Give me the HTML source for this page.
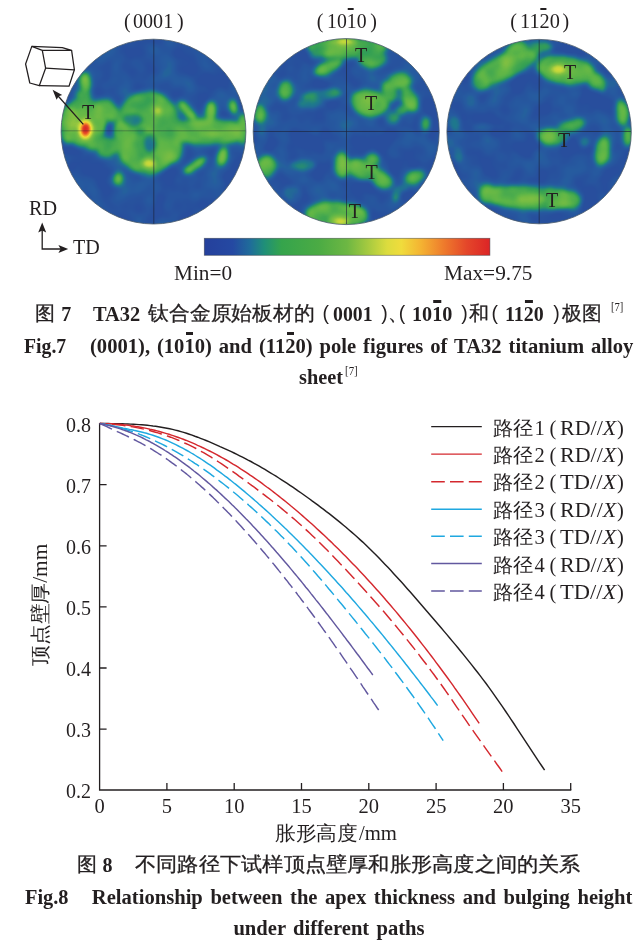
<!DOCTYPE html>
<html><head><meta charset="utf-8">
<style>
html,body{margin:0;padding:0;background:#fff;}
body{width:641px;height:944px;position:relative;overflow:hidden;font-family:"Liberation Serif",serif;color:#231f20;}
.t{position:absolute;white-space:nowrap;line-height:1;transform-origin:0 0;}
#tx{position:absolute;left:0;top:0;width:641px;height:944px;will-change:transform;}
.b{font-weight:bold;}
.cjk{font-family:"Liberation Sans",sans-serif;font-weight:normal;-webkit-text-stroke:0.3px #231f20;}
.cjkp{font-family:"Liberation Sans",sans-serif;font-weight:normal;}
.cjks{font-family:"Liberation Serif",serif;}
.r{font-weight:normal;}
svg{position:absolute;left:0;top:0;}
sup.r{font-size:0.62em;vertical-align:baseline;position:relative;top:-0.55em;font-weight:normal;}
.ob{position:relative;display:inline-block;}
.ob:before{content:"";position:absolute;left:10%;right:30%;top:-0.13em;height:0.075em;background:#231f20;}
.b .ob:before{height:0.125em;top:-0.17em;left:14%;right:12%;}
</style></head><body>
<svg width="641" height="944" viewBox="0 0 641 944">
<defs>
<linearGradient id="cb" x1="0" x2="1" y1="0" y2="0">
<stop offset="0" stop-color="#25409c"/>
<stop offset="0.1" stop-color="#2549a2"/>
<stop offset="0.16" stop-color="#1f6c9a"/>
<stop offset="0.21" stop-color="#1f8f78"/>
<stop offset="0.27" stop-color="#35a44c"/>
<stop offset="0.4" stop-color="#4bab44"/>
<stop offset="0.5" stop-color="#6db743"/>
<stop offset="0.57" stop-color="#a3c940"/>
<stop offset="0.64" stop-color="#dcdc3e"/>
<stop offset="0.69" stop-color="#f0dc3c"/>
<stop offset="0.76" stop-color="#f4b232"/>
<stop offset="0.84" stop-color="#ee7a2c"/>
<stop offset="0.92" stop-color="#e4462a"/>
<stop offset="1.0" stop-color="#dc2426"/>
</linearGradient>
<clipPath id="cp0"><circle cx="153.5" cy="131.6" r="92.4"/></clipPath>
<clipPath id="cp1"><circle cx="346.2" cy="131.6" r="93.0"/></clipPath>
<clipPath id="cp2"><circle cx="539.1" cy="131.6" r="92.2"/></clipPath>
<filter id="heat" x="0" y="0" width="641" height="260" filterUnits="userSpaceOnUse" color-interpolation-filters="sRGB"><feGaussianBlur in="SourceGraphic" stdDeviation="2.2" result="bl"/><feTurbulence type="fractalNoise" baseFrequency="0.045" numOctaves="2" seed="7" result="nz"/><feColorMatrix in="nz" type="matrix" values="1 0 0 0 0  1 0 0 0 0  1 0 0 0 0  0 0 0 0 1" result="ng"/><feGaussianBlur in="ng" stdDeviation="1.2" result="ngb"/><feComposite in="bl" in2="ngb" operator="arithmetic" k1="0" k2="1" k3="0.30" k4="-0.165" result="mix"/><feComponentTransfer in="mix"><feFuncR type="table" tableValues="0.157 0.149 0.118 0.204 0.361 0.510 0.745 0.941 0.949 0.894 0.839"/><feFuncG type="table" tableValues="0.306 0.361 0.478 0.627 0.710 0.753 0.839 0.863 0.588 0.282 0.133"/><feFuncB type="table" tableValues="0.616 0.627 0.549 0.329 0.282 0.259 0.235 0.220 0.173 0.157 0.157"/><feFuncA type="linear" slope="0" intercept="1"/></feComponentTransfer></filter>

</defs>
<g clip-path="url(#cp0)"><g filter="url(#heat)"><rect x="49.1" y="27.2" width="208.8" height="208.8" fill="#0d0d0d"/><ellipse cx="84" cy="122" rx="25.5" ry="27.5" fill="rgb(54,54,54)"/><ellipse cx="69" cy="124" rx="11.5" ry="22.5" fill="rgb(54,54,54)"/><ellipse cx="85.3" cy="84" rx="7.7" ry="13.5" fill="rgb(54,54,54)"/><ellipse cx="84" cy="97" rx="10.5" ry="10.5" fill="rgb(54,54,54)"/><ellipse cx="103" cy="108" rx="15.5" ry="11.5" fill="rgb(54,54,54)"/><ellipse cx="106" cy="147" rx="12.0" ry="13.0" fill="rgb(54,54,54)"/><ellipse cx="95" cy="142" rx="15.5" ry="10.5" fill="rgb(54,54,54)"/><ellipse cx="148" cy="133" rx="36.5" ry="44.5" fill="rgb(54,54,54)"/><ellipse cx="168" cy="150" rx="17.5" ry="16.5" fill="rgb(54,54,54)"/><ellipse cx="208" cy="131.5" rx="45.5" ry="15.5" fill="rgb(54,54,54)"/><ellipse cx="180" cy="131" rx="13.5" ry="14.5" fill="rgb(54,54,54)"/><ellipse cx="112" cy="114" rx="10.5" ry="10.5" fill="rgb(54,54,54)"/><ellipse cx="113" cy="146" rx="10.5" ry="10.5" fill="rgb(54,54,54)"/><ellipse cx="187.5" cy="111" rx="7.1" ry="14.5" fill="rgb(54,54,54)" transform="rotate(-40 187.5 111)"/><ellipse cx="210.8" cy="113" rx="7.7" ry="13.5" fill="rgb(54,54,54)"/><ellipse cx="233.5" cy="107.4" rx="6.9" ry="10.0" fill="rgb(54,54,54)" transform="rotate(-10 233.5 107.4)"/><ellipse cx="242.5" cy="129" rx="8.5" ry="17.5" fill="rgb(54,54,54)"/><ellipse cx="195.2" cy="165.2" rx="15.5" ry="6.9" fill="rgb(54,54,54)" transform="rotate(-35 195.2 165.2)"/><ellipse cx="222.5" cy="156.6" rx="7.7" ry="11.5" fill="rgb(54,54,54)" transform="rotate(15 222.5 156.6)"/><ellipse cx="118" cy="179.2" rx="6.9" ry="8.1" fill="rgb(54,54,54)"/><ellipse cx="212" cy="134" rx="15.5" ry="6.7" fill="rgb(54,54,54)"/><ellipse cx="72" cy="120" rx="9.5" ry="15.5" fill="rgb(54,54,54)"/><ellipse cx="97" cy="112" rx="8.5" ry="11.5" fill="rgb(54,54,54)"/><ellipse cx="84" cy="122" rx="22" ry="24" fill="rgb(102,102,102)"/><ellipse cx="69" cy="124" rx="8" ry="19" fill="rgb(102,102,102)"/><ellipse cx="85.3" cy="84" rx="4.2" ry="10" fill="rgb(115,115,115)"/><ellipse cx="84" cy="97" rx="7" ry="7" fill="rgb(102,102,102)"/><ellipse cx="103" cy="108" rx="12" ry="8" fill="rgb(102,102,102)"/><ellipse cx="106" cy="147" rx="8.5" ry="9.5" fill="rgb(102,102,102)"/><ellipse cx="95" cy="142" rx="12" ry="7" fill="rgb(102,102,102)"/><ellipse cx="148" cy="133" rx="33" ry="41" fill="rgb(102,102,102)"/><ellipse cx="168" cy="150" rx="14" ry="13" fill="rgb(102,102,102)"/><ellipse cx="208" cy="131.5" rx="42" ry="12" fill="rgb(102,102,102)"/><ellipse cx="180" cy="131" rx="10" ry="11" fill="rgb(102,102,102)"/><ellipse cx="112" cy="114" rx="7" ry="7" fill="rgb(102,102,102)"/><ellipse cx="113" cy="146" rx="7" ry="7" fill="rgb(102,102,102)"/><ellipse cx="187.5" cy="111" rx="3.6" ry="11" fill="rgb(115,115,115)" transform="rotate(-40 187.5 111)"/><ellipse cx="210.8" cy="113" rx="4.2" ry="10" fill="rgb(115,115,115)"/><ellipse cx="233.5" cy="107.4" rx="3.4" ry="6.5" fill="rgb(128,128,128)" transform="rotate(-10 233.5 107.4)"/><ellipse cx="242.5" cy="129" rx="5" ry="14" fill="rgb(102,102,102)"/><ellipse cx="195.2" cy="165.2" rx="12" ry="3.4" fill="rgb(122,122,122)" transform="rotate(-35 195.2 165.2)"/><ellipse cx="222.5" cy="156.6" rx="4.2" ry="8" fill="rgb(128,128,128)" transform="rotate(15 222.5 156.6)"/><ellipse cx="118" cy="179.2" rx="3.4" ry="4.6" fill="rgb(107,107,107)"/><ellipse cx="109" cy="130" rx="3.2" ry="6" fill="rgb(5,5,5)"/><ellipse cx="133" cy="120" rx="10" ry="6.5" fill="rgb(56,56,56)"/><ellipse cx="150" cy="143" rx="6" ry="10" fill="rgb(56,56,56)"/><ellipse cx="141" cy="132" rx="5" ry="4" fill="rgb(76,76,76)"/><ellipse cx="120" cy="131" rx="3" ry="4" fill="rgb(76,76,76)"/><ellipse cx="212" cy="134" rx="12" ry="3.2" fill="rgb(128,128,128)"/><ellipse cx="157.8" cy="111.3" rx="4.5" ry="4.5" fill="rgb(153,153,153)"/><ellipse cx="149" cy="163.6" rx="7.5" ry="5.5" fill="rgb(158,158,158)"/><ellipse cx="149.5" cy="163.6" rx="4.5" ry="3.2" fill="rgb(191,191,191)"/><ellipse cx="72" cy="120" rx="6" ry="12" fill="rgb(128,128,128)"/><ellipse cx="97" cy="112" rx="5" ry="8" fill="rgb(122,122,122)"/><ellipse cx="85.4" cy="129.6" rx="8.4" ry="12" fill="rgb(140,140,140)"/><ellipse cx="85.4" cy="129.8" rx="6.3" ry="9.4" fill="rgb(178,178,178)"/><ellipse cx="85.4" cy="130" rx="4.7" ry="7.2" fill="rgb(219,219,219)"/><ellipse cx="85.4" cy="130.2" rx="3.4" ry="5.4" fill="rgb(255,255,255)"/></g><path d="M153.8,39.19999999999999 V224.0" stroke="#1c2238" stroke-opacity="0.7" stroke-width="0.9" fill="none"/><path d="M61.099999999999994,130.8 H245.9" stroke="#1c2238" stroke-opacity="0.38" stroke-width="0.9" fill="none"/></g>
<circle cx="153.5" cy="131.6" r="92.4" fill="none" stroke="#4a5a6a" stroke-opacity="0.8" stroke-width="1"/>
<g clip-path="url(#cp1)"><g filter="url(#heat)"><rect x="241.2" y="26.6" width="210.0" height="210.0" fill="#0d0d0d"/><ellipse cx="347" cy="48" rx="42.5" ry="13.5" fill="rgb(54,54,54)"/><ellipse cx="372" cy="58" rx="17.5" ry="12.5" fill="rgb(54,54,54)"/><ellipse cx="320" cy="51" rx="13.5" ry="8.5" fill="rgb(54,54,54)" transform="rotate(-20 320 51)"/><ellipse cx="328.7" cy="67" rx="18.0" ry="8.5" fill="rgb(54,54,54)" transform="rotate(-25 328.7 67)"/><ellipse cx="285.2" cy="90" rx="10.0" ry="11.5" fill="rgb(54,54,54)"/><ellipse cx="260.5" cy="113" rx="8.0" ry="12.0" fill="rgb(54,54,54)"/><ellipse cx="370" cy="103" rx="21.5" ry="15.5" fill="rgb(54,54,54)" transform="rotate(8 370 103)"/><ellipse cx="392.2" cy="117.6" rx="9.0" ry="8.5" fill="rgb(54,54,54)" transform="rotate(30 392.2 117.6)"/><ellipse cx="399.8" cy="81" rx="13.5" ry="11.0" fill="rgb(54,54,54)"/><ellipse cx="389.5" cy="91.6" rx="10.0" ry="13.5" fill="rgb(54,54,54)" transform="rotate(-10 389.5 91.6)"/><ellipse cx="409.5" cy="99" rx="10.0" ry="15.5" fill="rgb(54,54,54)" transform="rotate(-25 409.5 99)"/><ellipse cx="425.8" cy="123.7" rx="7.5" ry="9.7" fill="rgb(54,54,54)"/><ellipse cx="266.8" cy="166.2" rx="11.5" ry="13.5" fill="rgb(54,54,54)" transform="rotate(-10 266.8 166.2)"/><ellipse cx="341.7" cy="165" rx="10.5" ry="15.0" fill="rgb(54,54,54)"/><ellipse cx="363" cy="170" rx="20.5" ry="12.0" fill="rgb(54,54,54)" transform="rotate(18 363 170)"/><ellipse cx="381.5" cy="180" rx="14.5" ry="10.5" fill="rgb(54,54,54)" transform="rotate(25 381.5 180)"/><ellipse cx="372.3" cy="159.5" rx="9.5" ry="8.5" fill="rgb(54,54,54)"/><ellipse cx="415" cy="177" rx="12.5" ry="9.0" fill="rgb(54,54,54)" transform="rotate(-30 415 177)"/><ellipse cx="337" cy="216" rx="33.5" ry="15.5" fill="rgb(54,54,54)"/><ellipse cx="329.5" cy="210" rx="25.5" ry="10.5" fill="rgb(54,54,54)" transform="rotate(-5 329.5 210)"/><ellipse cx="366" cy="103" rx="11.5" ry="9.5" fill="rgb(54,54,54)"/><ellipse cx="342" cy="163" rx="7.5" ry="10.5" fill="rgb(54,54,54)"/><ellipse cx="311" cy="104" rx="14" ry="5" fill="rgb(41,41,41)"/><ellipse cx="292.8" cy="193.7" rx="10" ry="8" fill="rgb(43,43,43)" transform="rotate(30 292.8 193.7)"/><ellipse cx="268" cy="92" rx="10" ry="18" fill="rgb(36,36,36)" transform="rotate(20 268 92)"/><ellipse cx="323" cy="95" rx="21" ry="6" fill="rgb(56,56,56)" transform="rotate(-5 323 95)"/><ellipse cx="262" cy="140" rx="6" ry="14" fill="rgb(31,31,31)"/><ellipse cx="303.5" cy="164.7" rx="13" ry="6" fill="rgb(54,54,54)"/><ellipse cx="396.8" cy="193.7" rx="4.5" ry="8" fill="rgb(69,69,69)" transform="rotate(15 396.8 193.7)"/><ellipse cx="404" cy="188" rx="6" ry="4" fill="rgb(51,51,51)" transform="rotate(-30 404 188)"/><ellipse cx="347" cy="48" rx="39" ry="10" fill="rgb(102,102,102)"/><ellipse cx="372" cy="58" rx="14" ry="9" fill="rgb(102,102,102)"/><ellipse cx="320" cy="51" rx="10" ry="5" fill="rgb(87,87,87)" transform="rotate(-20 320 51)"/><ellipse cx="328.7" cy="67" rx="14.5" ry="5" fill="rgb(102,102,102)" transform="rotate(-25 328.7 67)"/><ellipse cx="285.2" cy="90" rx="6.5" ry="8" fill="rgb(97,97,97)"/><ellipse cx="260.5" cy="113" rx="4.5" ry="8.5" fill="rgb(97,97,97)"/><ellipse cx="331" cy="93" rx="9.5" ry="5.5" fill="rgb(71,71,71)" transform="rotate(-5 331 93)"/><ellipse cx="370" cy="103" rx="18" ry="12" fill="rgb(102,102,102)" transform="rotate(8 370 103)"/><ellipse cx="392.2" cy="117.6" rx="5.5" ry="5" fill="rgb(92,92,92)" transform="rotate(30 392.2 117.6)"/><ellipse cx="399.8" cy="81" rx="10" ry="7.5" fill="rgb(102,102,102)"/><ellipse cx="389.5" cy="91.6" rx="6.5" ry="10" fill="rgb(102,102,102)" transform="rotate(-10 389.5 91.6)"/><ellipse cx="409.5" cy="99" rx="6.5" ry="12" fill="rgb(102,102,102)" transform="rotate(-25 409.5 99)"/><ellipse cx="401" cy="110" rx="6" ry="5" fill="rgb(76,76,76)"/><ellipse cx="399.8" cy="96" rx="3.5" ry="4.5" fill="rgb(56,56,56)"/><ellipse cx="425.8" cy="123.7" rx="4" ry="6.2" fill="rgb(102,102,102)"/><ellipse cx="266.8" cy="166.2" rx="8" ry="10" fill="rgb(99,99,99)" transform="rotate(-10 266.8 166.2)"/><ellipse cx="341.7" cy="165" rx="7" ry="11.5" fill="rgb(107,107,107)"/><ellipse cx="363" cy="170" rx="17" ry="8.5" fill="rgb(102,102,102)" transform="rotate(18 363 170)"/><ellipse cx="381.5" cy="180" rx="11" ry="7" fill="rgb(102,102,102)" transform="rotate(25 381.5 180)"/><ellipse cx="372.3" cy="159.5" rx="6" ry="5" fill="rgb(92,92,92)"/><ellipse cx="415" cy="177" rx="9" ry="5.5" fill="rgb(94,94,94)" transform="rotate(-30 415 177)"/><ellipse cx="337" cy="216" rx="30" ry="12" fill="rgb(102,102,102)"/><ellipse cx="329.5" cy="210" rx="22" ry="7" fill="rgb(107,107,107)" transform="rotate(-5 329.5 210)"/><ellipse cx="343" cy="41.5" rx="14" ry="3.5" fill="rgb(140,140,140)"/><ellipse cx="344" cy="40" rx="7" ry="2.5" fill="rgb(168,168,168)"/><ellipse cx="339.5" cy="220" rx="11" ry="4" fill="rgb(140,140,140)"/><ellipse cx="342" cy="222.5" rx="6" ry="2.5" fill="rgb(173,173,173)"/><ellipse cx="366" cy="103" rx="8" ry="6" fill="rgb(120,120,120)"/><ellipse cx="342" cy="163" rx="4" ry="7" fill="rgb(128,128,128)"/></g><path d="M346.5,38.599999999999994 V224.6" stroke="#1c2238" stroke-opacity="0.7" stroke-width="0.9" fill="none"/><path d="M253.2,131.5 H439.2" stroke="#1c2238" stroke-opacity="0.7" stroke-width="0.9" fill="none"/></g>
<circle cx="346.2" cy="131.6" r="93.0" fill="none" stroke="#4a5a6a" stroke-opacity="0.8" stroke-width="1"/>
<g clip-path="url(#cp2)"><g filter="url(#heat)"><rect x="434.9" y="27.4" width="208.4" height="208.4" fill="#0d0d0d"/><ellipse cx="506" cy="66.5" rx="35.5" ry="15.0" fill="rgb(54,54,54)" transform="rotate(-24 506 66.5)"/><ellipse cx="481" cy="81" rx="12.0" ry="12.5" fill="rgb(54,54,54)" transform="rotate(-35 481 81)"/><ellipse cx="517" cy="51" rx="14.5" ry="11.5" fill="rgb(54,54,54)" transform="rotate(-30 517 51)"/><ellipse cx="566" cy="70" rx="31.5" ry="17.0" fill="rgb(54,54,54)" transform="rotate(8 566 70)"/><ellipse cx="596" cy="81" rx="11.5" ry="10.5" fill="rgb(54,54,54)" transform="rotate(40 596 81)"/><ellipse cx="622" cy="113" rx="8.5" ry="15.5" fill="rgb(54,54,54)" transform="rotate(-8 622 113)"/><ellipse cx="628" cy="137" rx="7.0" ry="12.5" fill="rgb(54,54,54)"/><ellipse cx="553" cy="137" rx="17.5" ry="11.0" fill="rgb(54,54,54)"/><ellipse cx="570" cy="127" rx="15.5" ry="8.0" fill="rgb(54,54,54)" transform="rotate(-10 570 127)"/><ellipse cx="579" cy="123.7" rx="8.0" ry="7.5" fill="rgb(54,54,54)"/><ellipse cx="602" cy="151.6" rx="9.5" ry="16.5" fill="rgb(54,54,54)" transform="rotate(8 602 151.6)"/><ellipse cx="530" cy="197.6" rx="51.5" ry="14.5" fill="rgb(54,54,54)" transform="rotate(3 530 197.6)"/><ellipse cx="572" cy="200" rx="11.5" ry="10.5" fill="rgb(54,54,54)" transform="rotate(20 572 200)"/><ellipse cx="488" cy="194" rx="10.5" ry="11.5" fill="rgb(54,54,54)"/><ellipse cx="513.3" cy="61" rx="16.5" ry="9.0" fill="rgb(54,54,54)" transform="rotate(-22 513.3 61)"/><ellipse cx="531.7" cy="199" rx="17.5" ry="8.5" fill="rgb(54,54,54)"/><ellipse cx="549" cy="138" rx="10.5" ry="8.0" fill="rgb(54,54,54)"/><ellipse cx="531.7" cy="47.2" rx="22" ry="6.5" fill="rgb(64,64,64)"/><ellipse cx="455" cy="123.7" rx="6" ry="7" fill="rgb(51,51,51)"/><ellipse cx="489" cy="126.7" rx="16" ry="3.5" fill="rgb(38,38,38)"/><ellipse cx="458.3" cy="154.7" rx="5" ry="9" fill="rgb(38,38,38)"/><ellipse cx="585.2" cy="142.5" rx="5" ry="5" fill="rgb(51,51,51)"/><ellipse cx="470" cy="100" rx="8" ry="8" fill="rgb(26,26,26)"/><ellipse cx="506" cy="66.5" rx="32" ry="11.5" fill="rgb(102,102,102)" transform="rotate(-24 506 66.5)"/><ellipse cx="481" cy="81" rx="8.5" ry="9" fill="rgb(107,107,107)" transform="rotate(-35 481 81)"/><ellipse cx="517" cy="51" rx="11" ry="8" fill="rgb(97,97,97)" transform="rotate(-30 517 51)"/><ellipse cx="566" cy="70" rx="28" ry="13.5" fill="rgb(102,102,102)" transform="rotate(8 566 70)"/><ellipse cx="596" cy="81" rx="8" ry="7" fill="rgb(97,97,97)" transform="rotate(40 596 81)"/><ellipse cx="602" cy="88.5" rx="3.5" ry="4" fill="rgb(76,76,76)"/><ellipse cx="622" cy="113" rx="5" ry="12" fill="rgb(112,112,112)" transform="rotate(-8 622 113)"/><ellipse cx="628" cy="137" rx="3.5" ry="9" fill="rgb(107,107,107)"/><ellipse cx="553" cy="137" rx="14" ry="7.5" fill="rgb(102,102,102)"/><ellipse cx="570" cy="127" rx="12" ry="4.5" fill="rgb(97,97,97)" transform="rotate(-10 570 127)"/><ellipse cx="579" cy="123.7" rx="4.5" ry="4" fill="rgb(92,92,92)"/><ellipse cx="602" cy="151.6" rx="6" ry="13" fill="rgb(107,107,107)" transform="rotate(8 602 151.6)"/><ellipse cx="530" cy="197.6" rx="48" ry="11" fill="rgb(102,102,102)" transform="rotate(3 530 197.6)"/><ellipse cx="572" cy="200" rx="8" ry="7" fill="rgb(97,97,97)" transform="rotate(20 572 200)"/><ellipse cx="488" cy="194" rx="7" ry="8" fill="rgb(102,102,102)"/><ellipse cx="513.3" cy="61" rx="13" ry="5.5" fill="rgb(117,117,117)" transform="rotate(-22 513.3 61)"/><ellipse cx="557.7" cy="69.3" rx="9" ry="6" fill="rgb(135,135,135)"/><ellipse cx="557.7" cy="69.3" rx="5.5" ry="3.6" fill="rgb(163,163,163)"/><ellipse cx="531.7" cy="199" rx="14" ry="5" fill="rgb(128,128,128)"/><ellipse cx="549" cy="138" rx="7" ry="4.5" fill="rgb(122,122,122)"/></g><path d="M539.2,39.39999999999999 V223.8" stroke="#1c2238" stroke-opacity="0.7" stroke-width="0.9" fill="none"/><path d="M446.90000000000003,131.5 H631.3000000000001" stroke="#1c2238" stroke-opacity="0.7" stroke-width="0.9" fill="none"/></g>
<circle cx="539.1" cy="131.6" r="92.2" fill="none" stroke="#4a5a6a" stroke-opacity="0.8" stroke-width="1"/>

<!-- colour bar -->
<rect x="204.3" y="238.3" width="285.6" height="17" fill="url(#cb)" stroke="#2a3038" stroke-opacity="0.55" stroke-width="0.8"/>
<!-- hex prism -->
<g fill="none" stroke="#231f20" stroke-width="1.25" stroke-linejoin="round">
<path d="M31.8,46.4 L25.6,64 L29.8,83 L39.3,85.7 L45.6,68.2 L42.3,50.3 Z"/>
<path d="M31.8,46.4 L62.3,47.6 L71.6,50.3 L42.3,50.3"/>
<path d="M45.6,68.2 L74.4,69.8"/>
<path d="M39.3,85.7 L69,86.2 L74.4,69.8 L71.6,50.3"/>
</g>
<!-- arrow to prism -->
<path d="M83.3,124.4 L55,92.5" stroke="#231f20" stroke-width="1.3" fill="none"/>
<path d="M52.6,89.8 L62.2,95 L58.6,96.3 L56.6,99.8 Z" fill="#231f20"/>
<!-- RD/TD axes -->
<path d="M42.2,228 L42.2,249 L62,249" stroke="#231f20" stroke-width="1.3" fill="none"/>
<path d="M42.2,222.6 L46.2,232.6 L42.2,230.4 L38.2,232.6 Z" fill="#231f20"/>
<path d="M68.2,249 L58.4,245 L60.6,249 L58.4,253 Z" fill="#231f20"/>
<!-- chart axes -->
<g stroke="#231f20" stroke-width="1.3" fill="none">
<path d="M99.6,423 L99.6,790 L571.3,790"/>
<path d="M99.6,423.6 h7 M99.6,484.7 h7 M99.6,545.8 h7 M99.6,606.9 h7 M99.6,668 h7 M99.6,729.1 h7"/>
<path d="M166.9,790 v-7 M234.2,790 v-7 M301.5,790 v-7 M368.8,790 v-7 M436.1,790 v-7 M503.4,790 v-7 M570.7,790 v-7"/>
</g>
<path d="M99.8,423.5 L102.6,423.5 L105.4,423.5 L108.2,423.5 L111.0,423.6 L113.8,423.6 L116.6,423.6 L119.4,423.7 L122.2,423.8 L125.0,423.9 L127.8,424.0 L130.6,424.1 L133.4,424.2 L136.2,424.4 L139.0,424.6 L141.8,424.8 L144.6,425.0 L147.4,425.3 L150.2,425.6 L153.0,426.0 L155.7,426.3 L158.5,426.7 L161.3,427.2 L164.1,427.7 L166.9,428.2 L169.7,428.8 L172.5,429.4 L175.3,430.1 L178.1,430.8 L180.9,431.6 L183.7,432.4 L186.5,433.3 L189.3,434.2 L192.1,435.1 L194.9,436.2 L197.7,437.2 L200.5,438.3 L203.3,439.4 L206.1,440.5 L208.9,441.7 L211.7,442.9 L214.5,444.1 L217.3,445.3 L220.1,446.6 L222.9,447.8 L225.7,449.1 L228.5,450.4 L231.3,451.7 L234.1,453.0 L236.9,454.4 L239.7,455.8 L242.5,457.2 L245.3,458.6 L248.1,460.1 L250.9,461.5 L253.7,463.1 L256.5,464.6 L259.3,466.2 L262.1,467.8 L264.9,469.4 L267.6,471.1 L270.4,472.8 L273.2,474.5 L276.0,476.2 L278.8,478.0 L281.6,479.8 L284.4,481.6 L287.2,483.4 L290.0,485.3 L292.8,487.2 L295.6,489.1 L298.4,491.1 L301.2,493.0 L304.0,495.0 L306.8,497.0 L309.6,499.0 L312.4,501.1 L315.2,503.1 L318.0,505.2 L320.8,507.3 L323.6,509.4 L326.4,511.6 L329.2,513.7 L332.0,515.9 L334.8,518.1 L337.6,520.4 L340.4,522.6 L343.2,525.0 L346.0,527.3 L348.8,529.7 L351.6,532.1 L354.4,534.5 L357.2,537.0 L360.0,539.6 L362.8,542.1 L365.6,544.8 L368.4,547.4 L371.2,550.2 L374.0,552.9 L376.8,555.7 L379.5,558.6 L382.3,561.5 L385.1,564.4 L387.9,567.3 L390.7,570.3 L393.5,573.4 L396.3,576.4 L399.1,579.5 L401.9,582.6 L404.7,585.7 L407.5,588.9 L410.3,592.1 L413.1,595.3 L415.9,598.5 L418.7,601.7 L421.5,604.9 L424.3,608.2 L427.1,611.4 L429.9,614.7 L432.7,618.0 L435.5,621.3 L438.3,624.5 L441.1,627.8 L443.9,631.1 L446.7,634.4 L449.5,637.7 L452.3,641.1 L455.1,644.4 L457.9,647.8 L460.7,651.2 L463.5,654.6 L466.3,658.1 L469.1,661.6 L471.9,665.1 L474.7,668.7 L477.5,672.3 L480.3,675.9 L483.1,679.6 L485.9,683.3 L488.7,687.1 L491.4,690.9 L494.2,694.8 L497.0,698.8 L499.8,702.8 L502.6,706.8 L505.4,711.0 L508.2,715.1 L511.0,719.3 L513.8,723.5 L516.6,727.8 L519.4,732.1 L522.2,736.4 L525.0,740.7 L527.8,744.9 L530.6,749.2 L533.4,753.4 L536.2,757.7 L539.0,761.9 L541.8,766.0 L544.6,770.1" fill="none" stroke="#231f20" stroke-width="1.45"/>
<path d="M99.8,423.5 L102.2,423.5 L104.6,423.6 L107.0,423.6 L109.3,423.7 L111.7,423.8 L114.1,424.0 L116.5,424.1 L118.9,424.3 L121.3,424.5 L123.7,424.8 L126.0,425.0 L128.4,425.3 L130.8,425.7 L133.2,426.0 L135.6,426.4 L138.0,426.8 L140.4,427.2 L142.8,427.6 L145.1,428.1 L147.5,428.6 L149.9,429.2 L152.3,429.7 L154.7,430.3 L157.1,430.9 L159.5,431.5 L161.8,432.2 L164.2,432.9 L166.6,433.6 L169.0,434.3 L171.4,435.1 L173.8,435.9 L176.2,436.7 L178.5,437.5 L180.9,438.4 L183.3,439.3 L185.7,440.2 L188.1,441.2 L190.5,442.2 L192.9,443.2 L195.2,444.2 L197.6,445.3 L200.0,446.3 L202.4,447.5 L204.8,448.6 L207.2,449.8 L209.6,451.0 L211.9,452.2 L214.3,453.4 L216.7,454.7 L219.1,456.0 L221.5,457.3 L223.9,458.6 L226.3,460.0 L228.7,461.4 L231.0,462.8 L233.4,464.3 L235.8,465.7 L238.2,467.2 L240.6,468.8 L243.0,470.3 L245.4,471.9 L247.7,473.4 L250.1,475.1 L252.5,476.7 L254.9,478.3 L257.3,480.0 L259.7,481.7 L262.1,483.4 L264.4,485.2 L266.8,487.0 L269.2,488.7 L271.6,490.5 L274.0,492.4 L276.4,494.2 L278.8,496.1 L281.1,498.0 L283.5,499.9 L285.9,501.8 L288.3,503.8 L290.7,505.8 L293.1,507.7 L295.5,509.7 L297.9,511.8 L300.2,513.8 L302.6,515.9 L305.0,518.0 L307.4,520.1 L309.8,522.2 L312.2,524.3 L314.6,526.5 L316.9,528.7 L319.3,530.9 L321.7,533.1 L324.1,535.3 L326.5,537.6 L328.9,539.9 L331.3,542.1 L333.6,544.5 L336.0,546.8 L338.4,549.1 L340.8,551.5 L343.2,553.9 L345.6,556.3 L348.0,558.7 L350.3,561.2 L352.7,563.7 L355.1,566.1 L357.5,568.6 L359.9,571.2 L362.3,573.7 L364.7,576.3 L367.1,578.9 L369.4,581.5 L371.8,584.1 L374.2,586.7 L376.6,589.4 L379.0,592.1 L381.4,594.8 L383.8,597.5 L386.1,600.3 L388.5,603.0 L390.9,605.8 L393.3,608.6 L395.7,611.4 L398.1,614.3 L400.5,617.2 L402.8,620.0 L405.2,622.9 L407.6,625.9 L410.0,628.8 L412.4,631.8 L414.8,634.8 L417.2,637.8 L419.5,640.8 L421.9,643.9 L424.3,646.9 L426.7,650.0 L429.1,653.1 L431.5,656.3 L433.9,659.4 L436.2,662.6 L438.6,665.8 L441.0,669.0 L443.4,672.3 L445.8,675.5 L448.2,678.8 L450.6,682.1 L453.0,685.4 L455.3,688.8 L457.7,692.1 L460.1,695.5 L462.5,698.9 L464.9,702.4 L467.3,705.8 L469.7,709.3 L472.0,712.8 L474.4,716.3 L476.8,719.8 L479.2,723.4" fill="none" stroke="#d4282e" stroke-width="1.45"/>
<path d="M99.8,423.5 L102.3,423.6 L104.9,423.7 L107.4,423.9 L109.9,424.1 L112.5,424.3 L115.0,424.5 L117.5,424.8 L120.0,425.1 L122.6,425.4 L125.1,425.7 L127.6,426.1 L130.2,426.5 L132.7,426.9 L135.2,427.4 L137.8,427.9 L140.3,428.4 L142.8,428.9 L145.4,429.5 L147.9,430.1 L150.4,430.8 L152.9,431.5 L155.5,432.2 L158.0,432.9 L160.5,433.7 L163.1,434.5 L165.6,435.4 L168.1,436.3 L170.7,437.2 L173.2,438.2 L175.7,439.2 L178.3,440.2 L180.8,441.3 L183.3,442.4 L185.8,443.5 L188.4,444.7 L190.9,445.9 L193.4,447.2 L196.0,448.5 L198.5,449.9 L201.0,451.3 L203.6,452.7 L206.1,454.2 L208.6,455.7 L211.2,457.2 L213.7,458.8 L216.2,460.4 L218.7,462.0 L221.3,463.7 L223.8,465.4 L226.3,467.1 L228.9,468.9 L231.4,470.6 L233.9,472.4 L236.5,474.2 L239.0,476.1 L241.5,477.9 L244.1,479.7 L246.6,481.6 L249.1,483.5 L251.6,485.4 L254.2,487.2 L256.7,489.1 L259.2,491.0 L261.8,493.0 L264.3,494.9 L266.8,496.8 L269.4,498.8 L271.9,500.8 L274.4,502.8 L277.0,504.8 L279.5,506.8 L282.0,508.9 L284.5,511.0 L287.1,513.1 L289.6,515.2 L292.1,517.4 L294.7,519.5 L297.2,521.8 L299.7,524.0 L302.3,526.3 L304.8,528.6 L307.3,530.9 L309.9,533.3 L312.4,535.7 L314.9,538.1 L317.5,540.6 L320.0,543.1 L322.5,545.6 L325.0,548.1 L327.6,550.6 L330.1,553.2 L332.6,555.8 L335.2,558.4 L337.7,561.0 L340.2,563.7 L342.8,566.3 L345.3,569.0 L347.8,571.7 L350.4,574.4 L352.9,577.2 L355.4,579.9 L357.9,582.7 L360.5,585.4 L363.0,588.2 L365.5,591.0 L368.1,593.8 L370.6,596.7 L373.1,599.5 L375.7,602.4 L378.2,605.3 L380.7,608.2 L383.3,611.1 L385.8,614.0 L388.3,617.0 L390.8,620.0 L393.4,623.0 L395.9,626.0 L398.4,629.1 L401.0,632.2 L403.5,635.3 L406.0,638.4 L408.6,641.6 L411.1,644.7 L413.6,647.9 L416.2,651.2 L418.7,654.4 L421.2,657.7 L423.7,661.0 L426.3,664.3 L428.8,667.7 L431.3,671.1 L433.9,674.5 L436.4,678.0 L438.9,681.5 L441.5,685.0 L444.0,688.5 L446.5,692.1 L449.1,695.7 L451.6,699.4 L454.1,703.1 L456.6,706.8 L459.2,710.5 L461.7,714.2 L464.2,717.9 L466.8,721.6 L469.3,725.3 L471.8,728.9 L474.4,732.6 L476.9,736.2 L479.4,739.7 L482.0,743.3 L484.5,746.8 L487.0,750.4 L489.5,753.9 L492.1,757.4 L494.6,760.9 L497.1,764.5 L499.7,768.0 L502.2,771.6" fill="none" stroke="#d4282e" stroke-width="1.45" stroke-dasharray="13.4 5.3" stroke-dashoffset="6.31"/>
<path d="M99.8,423.5 L101.9,423.9 L104.0,424.3 L106.2,424.7 L108.3,425.1 L110.4,425.5 L112.5,426.0 L114.7,426.4 L116.8,426.8 L118.9,427.2 L121.0,427.6 L123.2,428.1 L125.3,428.5 L127.4,428.9 L129.5,429.4 L131.7,429.8 L133.8,430.3 L135.9,430.7 L138.0,431.2 L140.2,431.7 L142.3,432.2 L144.4,432.8 L146.5,433.3 L148.7,434.0 L150.8,434.6 L152.9,435.3 L155.0,436.0 L157.2,436.7 L159.3,437.5 L161.4,438.3 L163.5,439.2 L165.7,440.0 L167.8,440.9 L169.9,441.9 L172.0,442.9 L174.2,443.9 L176.3,444.9 L178.4,446.0 L180.5,447.1 L182.7,448.2 L184.8,449.3 L186.9,450.5 L189.0,451.7 L191.2,453.0 L193.3,454.2 L195.4,455.5 L197.5,456.8 L199.7,458.2 L201.8,459.5 L203.9,460.9 L206.0,462.3 L208.2,463.8 L210.3,465.2 L212.4,466.7 L214.5,468.2 L216.6,469.8 L218.8,471.3 L220.9,472.9 L223.0,474.5 L225.1,476.1 L227.3,477.7 L229.4,479.4 L231.5,481.0 L233.6,482.7 L235.8,484.4 L237.9,486.1 L240.0,487.9 L242.1,489.6 L244.3,491.4 L246.4,493.2 L248.5,495.0 L250.6,496.8 L252.8,498.6 L254.9,500.5 L257.0,502.3 L259.1,504.2 L261.3,506.1 L263.4,508.0 L265.5,509.9 L267.6,511.8 L269.8,513.8 L271.9,515.8 L274.0,517.7 L276.1,519.7 L278.3,521.7 L280.4,523.7 L282.5,525.7 L284.6,527.8 L286.8,529.8 L288.9,531.9 L291.0,534.0 L293.1,536.1 L295.3,538.2 L297.4,540.3 L299.5,542.4 L301.6,544.6 L303.8,546.7 L305.9,548.9 L308.0,551.1 L310.1,553.3 L312.3,555.5 L314.4,557.7 L316.5,559.9 L318.6,562.2 L320.8,564.4 L322.9,566.7 L325.0,569.0 L327.1,571.3 L329.2,573.6 L331.4,575.9 L333.5,578.2 L335.6,580.6 L337.7,582.9 L339.9,585.3 L342.0,587.6 L344.1,590.0 L346.2,592.4 L348.4,594.8 L350.5,597.3 L352.6,599.7 L354.7,602.1 L356.9,604.6 L359.0,607.1 L361.1,609.5 L363.2,612.0 L365.4,614.5 L367.5,617.0 L369.6,619.6 L371.7,622.1 L373.9,624.6 L376.0,627.2 L378.1,629.8 L380.2,632.3 L382.4,634.9 L384.5,637.5 L386.6,640.1 L388.7,642.7 L390.9,645.4 L393.0,648.0 L395.1,650.6 L397.2,653.3 L399.4,656.0 L401.5,658.6 L403.6,661.3 L405.7,664.0 L407.9,666.7 L410.0,669.5 L412.1,672.2 L414.2,674.9 L416.4,677.7 L418.5,680.4 L420.6,683.2 L422.7,685.9 L424.9,688.7 L427.0,691.5 L429.1,694.3 L431.2,697.1 L433.4,699.9 L435.5,702.8 L437.6,705.6" fill="none" stroke="#1fa8e0" stroke-width="1.45"/>
<path d="M99.8,423.5 L102.0,423.9 L104.1,424.2 L106.3,424.6 L108.4,425.1 L110.6,425.5 L112.8,426.0 L114.9,426.5 L117.1,427.1 L119.2,427.6 L121.4,428.2 L123.6,428.9 L125.7,429.5 L127.9,430.2 L130.0,430.9 L132.2,431.6 L134.4,432.4 L136.5,433.1 L138.7,433.9 L140.8,434.8 L143.0,435.6 L145.2,436.5 L147.3,437.4 L149.5,438.3 L151.6,439.3 L153.8,440.3 L156.0,441.3 L158.1,442.3 L160.3,443.3 L162.4,444.4 L164.6,445.5 L166.8,446.6 L168.9,447.8 L171.1,448.9 L173.2,450.1 L175.4,451.3 L177.6,452.6 L179.7,453.8 L181.9,455.1 L184.0,456.4 L186.2,457.7 L188.3,459.1 L190.5,460.5 L192.7,461.8 L194.8,463.3 L197.0,464.7 L199.1,466.1 L201.3,467.6 L203.5,469.1 L205.6,470.6 L207.8,472.2 L209.9,473.7 L212.1,475.3 L214.3,476.9 L216.4,478.5 L218.6,480.2 L220.7,481.8 L222.9,483.5 L225.1,485.2 L227.2,486.9 L229.4,488.7 L231.5,490.4 L233.7,492.2 L235.9,494.0 L238.0,495.8 L240.2,497.7 L242.3,499.5 L244.5,501.4 L246.7,503.3 L248.8,505.2 L251.0,507.1 L253.1,509.0 L255.3,511.0 L257.5,513.0 L259.6,515.0 L261.8,517.0 L263.9,519.0 L266.1,521.1 L268.3,523.1 L270.4,525.2 L272.6,527.3 L274.7,529.5 L276.9,531.6 L279.1,533.8 L281.2,535.9 L283.4,538.1 L285.5,540.4 L287.7,542.6 L289.9,544.9 L292.0,547.1 L294.2,549.4 L296.3,551.8 L298.5,554.1 L300.7,556.5 L302.8,558.8 L305.0,561.2 L307.1,563.6 L309.3,566.1 L311.5,568.5 L313.6,571.0 L315.8,573.5 L317.9,576.0 L320.1,578.5 L322.3,581.0 L324.4,583.6 L326.6,586.1 L328.7,588.7 L330.9,591.3 L333.1,593.9 L335.2,596.5 L337.4,599.1 L339.5,601.7 L341.7,604.3 L343.9,607.0 L346.0,609.6 L348.2,612.2 L350.3,614.9 L352.5,617.6 L354.7,620.2 L356.8,622.9 L359.0,625.6 L361.1,628.3 L363.3,631.0 L365.4,633.7 L367.6,636.4 L369.8,639.1 L371.9,641.8 L374.1,644.6 L376.2,647.3 L378.4,650.1 L380.6,652.9 L382.7,655.6 L384.9,658.4 L387.0,661.3 L389.2,664.1 L391.4,666.9 L393.5,669.8 L395.7,672.7 L397.8,675.5 L400.0,678.5 L402.2,681.4 L404.3,684.3 L406.5,687.3 L408.6,690.2 L410.8,693.2 L413.0,696.2 L415.1,699.3 L417.3,702.3 L419.4,705.4 L421.6,708.5 L423.8,711.6 L425.9,714.7 L428.1,717.9 L430.2,721.1 L432.4,724.3 L434.6,727.5 L436.7,730.8 L438.9,734.1 L441.0,737.4 L443.2,740.7" fill="none" stroke="#1fa8e0" stroke-width="1.45" stroke-dasharray="13.4 5.3" stroke-dashoffset="16.68"/>
<path d="M99.8,423.5 L101.5,423.8 L103.2,424.2 L105.0,424.6 L106.7,424.9 L108.4,425.4 L110.1,425.8 L111.8,426.3 L113.5,426.7 L115.3,427.2 L117.0,427.8 L118.7,428.3 L120.4,428.9 L122.1,429.5 L123.8,430.1 L125.6,430.7 L127.3,431.3 L129.0,432.0 L130.7,432.7 L132.4,433.4 L134.1,434.1 L135.9,434.9 L137.6,435.6 L139.3,436.4 L141.0,437.2 L142.7,438.0 L144.4,438.9 L146.2,439.8 L147.9,440.6 L149.6,441.5 L151.3,442.5 L153.0,443.4 L154.7,444.4 L156.5,445.3 L158.2,446.3 L159.9,447.3 L161.6,448.4 L163.3,449.4 L165.0,450.5 L166.8,451.6 L168.5,452.7 L170.2,453.8 L171.9,454.9 L173.6,456.1 L175.3,457.2 L177.1,458.4 L178.8,459.6 L180.5,460.8 L182.2,462.1 L183.9,463.3 L185.6,464.6 L187.4,465.9 L189.1,467.2 L190.8,468.5 L192.5,469.8 L194.2,471.2 L196.0,472.6 L197.7,473.9 L199.4,475.3 L201.1,476.8 L202.8,478.2 L204.5,479.6 L206.3,481.1 L208.0,482.6 L209.7,484.0 L211.4,485.5 L213.1,487.1 L214.8,488.6 L216.6,490.1 L218.3,491.7 L220.0,493.3 L221.7,494.9 L223.4,496.5 L225.1,498.1 L226.9,499.7 L228.6,501.3 L230.3,503.0 L232.0,504.7 L233.7,506.3 L235.4,508.0 L237.2,509.7 L238.9,511.5 L240.6,513.2 L242.3,514.9 L244.0,516.7 L245.7,518.5 L247.5,520.2 L249.2,522.0 L250.9,523.8 L252.6,525.7 L254.3,527.5 L256.0,529.3 L257.8,531.2 L259.5,533.0 L261.2,534.9 L262.9,536.8 L264.6,538.7 L266.3,540.6 L268.1,542.5 L269.8,544.4 L271.5,546.4 L273.2,548.3 L274.9,550.3 L276.6,552.3 L278.4,554.2 L280.1,556.2 L281.8,558.2 L283.5,560.2 L285.2,562.2 L287.0,564.3 L288.7,566.3 L290.4,568.4 L292.1,570.4 L293.8,572.5 L295.5,574.5 L297.3,576.6 L299.0,578.7 L300.7,580.8 L302.4,582.9 L304.1,585.0 L305.8,587.2 L307.6,589.3 L309.3,591.4 L311.0,593.6 L312.7,595.7 L314.4,597.9 L316.1,600.1 L317.9,602.2 L319.6,604.4 L321.3,606.6 L323.0,608.8 L324.7,611.0 L326.4,613.2 L328.2,615.4 L329.9,617.7 L331.6,619.9 L333.3,622.1 L335.0,624.4 L336.7,626.6 L338.5,628.9 L340.2,631.1 L341.9,633.4 L343.6,635.7 L345.3,637.9 L347.0,640.2 L348.8,642.5 L350.5,644.8 L352.2,647.1 L353.9,649.4 L355.6,651.7 L357.3,654.0 L359.1,656.3 L360.8,658.7 L362.5,661.0 L364.2,663.3 L365.9,665.6 L367.6,668.0 L369.4,670.3 L371.1,672.7 L372.8,675.0" fill="none" stroke="#62589f" stroke-width="1.45"/>
<path d="M99.8,423.5 L101.6,424.3 L103.3,425.1 L105.1,425.9 L106.8,426.7 L108.6,427.5 L110.3,428.3 L112.1,429.1 L113.8,429.9 L115.6,430.7 L117.3,431.6 L119.1,432.4 L120.8,433.2 L122.6,434.0 L124.4,434.8 L126.1,435.7 L127.9,436.5 L129.6,437.4 L131.4,438.2 L133.1,439.1 L134.9,440.0 L136.6,440.9 L138.4,441.8 L140.1,442.7 L141.9,443.7 L143.7,444.6 L145.4,445.6 L147.2,446.6 L148.9,447.6 L150.7,448.6 L152.4,449.7 L154.2,450.8 L155.9,451.9 L157.7,453.0 L159.4,454.1 L161.2,455.2 L162.9,456.4 L164.7,457.6 L166.5,458.8 L168.2,460.0 L170.0,461.3 L171.7,462.6 L173.5,463.9 L175.2,465.2 L177.0,466.5 L178.7,467.8 L180.5,469.2 L182.2,470.6 L184.0,472.0 L185.8,473.4 L187.5,474.8 L189.3,476.2 L191.0,477.7 L192.8,479.2 L194.5,480.7 L196.3,482.2 L198.0,483.7 L199.8,485.3 L201.5,486.9 L203.3,488.4 L205.0,490.0 L206.8,491.7 L208.6,493.3 L210.3,494.9 L212.1,496.6 L213.8,498.3 L215.6,500.0 L217.3,501.7 L219.1,503.4 L220.8,505.2 L222.6,506.9 L224.3,508.7 L226.1,510.5 L227.8,512.3 L229.6,514.1 L231.4,515.9 L233.1,517.8 L234.9,519.6 L236.6,521.5 L238.4,523.4 L240.1,525.3 L241.9,527.2 L243.6,529.2 L245.4,531.1 L247.1,533.0 L248.9,535.0 L250.7,537.0 L252.4,539.0 L254.2,541.0 L255.9,543.0 L257.7,545.0 L259.4,547.1 L261.2,549.2 L262.9,551.2 L264.7,553.3 L266.4,555.4 L268.2,557.5 L269.9,559.6 L271.7,561.8 L273.5,563.9 L275.2,566.0 L277.0,568.2 L278.7,570.4 L280.5,572.6 L282.2,574.8 L284.0,577.0 L285.7,579.2 L287.5,581.4 L289.2,583.7 L291.0,585.9 L292.7,588.2 L294.5,590.5 L296.3,592.8 L298.0,595.1 L299.8,597.4 L301.5,599.7 L303.3,602.0 L305.0,604.4 L306.8,606.7 L308.5,609.1 L310.3,611.5 L312.0,613.8 L313.8,616.2 L315.6,618.6 L317.3,621.0 L319.1,623.5 L320.8,625.9 L322.6,628.3 L324.3,630.8 L326.1,633.2 L327.8,635.7 L329.6,638.2 L331.3,640.7 L333.1,643.2 L334.8,645.7 L336.6,648.2 L338.4,650.7 L340.1,653.2 L341.9,655.8 L343.6,658.3 L345.4,660.9 L347.1,663.4 L348.9,666.0 L350.6,668.6 L352.4,671.2 L354.1,673.7 L355.9,676.3 L357.7,678.9 L359.4,681.5 L361.2,684.2 L362.9,686.8 L364.7,689.4 L366.4,692.0 L368.2,694.6 L369.9,697.2 L371.7,699.7 L373.4,702.3 L375.2,704.9 L376.9,707.5 L378.7,710.0" fill="none" stroke="#62589f" stroke-width="1.45" stroke-dasharray="13.4 5.3" stroke-dashoffset="18.67"/>

<!-- legend lines -->
<g fill="none" stroke-width="1.45">
<path d="M431.2,426.6 H481.8" stroke="#231f20"/>
<path d="M431.2,454.1 H481.8" stroke="#d4282e"/>
<path d="M431.2,481.7 H481.8" stroke="#d4282e" stroke-dasharray="13.6 5.2"/>
<path d="M431.2,509.3 H481.8" stroke="#1fa8e0"/>
<path d="M431.2,536.2 H481.8" stroke="#1fa8e0" stroke-dasharray="13.6 5.2"/>
<path d="M431.2,563.4 H481.8" stroke="#62589f"/>
<path d="M431.2,591 H481.8" stroke="#62589f" stroke-dasharray="13.6 5.2"/>
</g>
</svg>
<div id="tx">
<span id="t1p1" class="t" style="left:124.0px;top:10.75px;font-size:20px;">(</span>
<span id="t1" class="t" style="left:132.6px;top:10.75px;font-size:20px;transform:scaleX(1.0050);">0001</span>
<span id="t1p2" class="t" style="left:177.0px;top:10.75px;font-size:20px;">)</span>
<span id="t2p1" class="t" style="left:316.8px;top:10.75px;font-size:20px;">(</span>
<span id="t2" class="t" style="left:327.4px;top:10.75px;font-size:20px;transform:scaleX(0.9875);">10<span class="ob">1</span>0</span>
<span id="t2p2" class="t" style="left:370.2px;top:10.75px;font-size:20px;">)</span>
<span id="t3p1" class="t" style="left:510.2px;top:10.75px;font-size:20px;">(</span>
<span id="t3" class="t" style="left:520.2px;top:10.75px;font-size:20px;transform:scaleX(1.0162);">11<span class="ob">2</span>0</span>
<span id="t3p2" class="t" style="left:562.5px;top:10.75px;font-size:20px;">)</span>
<span id="rd" class="t" style="left:28.7px;top:198.13px;font-size:20.5px;transform:scaleX(0.9865);">RD</span>
<span id="td" class="t" style="left:72.7px;top:237.03px;font-size:20.5px;transform:scaleX(0.9807);">TD</span>
<span id="min" class="t" style="left:173.7px;top:262.83px;font-size:20.5px;transform:scaleX(1.0375);">Min=0</span>
<span id="max" class="t" style="left:444.0px;top:262.83px;font-size:20.5px;transform:scaleX(1.0410);">Max=9.75</span>
<span id="c7a" class="t cjk" style="left:35.4px;top:304.27px;font-size:19.5px;">图</span>
<span id="c7b" class="t b" style="left:61.2px;top:303.85px;font-size:20px;">7</span>
<span id="c7c" class="t b" style="left:92.8px;top:303.85px;font-size:20px;transform:scaleX(1.0213);">TA32</span>
<span id="c7d" class="t cjk" style="left:147.7px;top:304.27px;font-size:19.5px;transform:scaleX(1.0419);">钛合金原始板材的</span>
<span id="c7e" class="t cjkp" style="left:322.6px;top:303.87px;font-size:19.5px;">(</span>
<span id="c7f" class="t b" style="left:333.2px;top:303.85px;font-size:20px;transform:scaleX(0.9875);">0001</span>
<span id="c7g" class="t cjkp" style="left:381.3px;top:303.87px;font-size:19.5px;">)</span>
<span id="c7h" class="t cjk" style="left:387.5px;top:304.27px;font-size:19.5px;">、</span>
<span id="c7i" class="t cjkp" style="left:398.7px;top:303.87px;font-size:19.5px;">(</span>
<span id="c7j" class="t b" style="left:412.2px;top:303.85px;font-size:20px;transform:scaleX(1.0100);">10<span class="ob">1</span>0</span>
<span id="c7k" class="t cjkp" style="left:461.3px;top:303.87px;font-size:19.5px;">)</span>
<span id="c7l" class="t cjk" style="left:469.0px;top:304.27px;font-size:19.5px;">和</span>
<span id="c7m" class="t cjkp" style="left:491.5px;top:303.87px;font-size:19.5px;">(</span>
<span id="c7n" class="t b" style="left:505.1px;top:303.85px;font-size:20px;transform:scaleX(0.9973);">11<span class="ob">2</span>0</span>
<span id="c7o" class="t cjkp" style="left:553.3px;top:303.87px;font-size:19.5px;">)</span>
<span id="c7p" class="t cjk" style="left:561.7px;top:304.27px;font-size:19.5px;transform:scaleX(0.9875);">极图</span>
<span id="c7q" class="t" style="left:610.8px;top:300.73px;font-size:12.5px;transform:scaleX(0.8506);">[7]</span>
<span id="c7en0" class="t b" style="left:24.1px;top:335.95px;font-size:20.6px;transform:scaleX(0.9581);">Fig.7</span>
<span id="c7en" class="t b" style="left:90.0px;top:335.95px;font-size:20.6px;word-spacing:1.761px;">(0001), (10<span class="ob">1</span>0) and (11<span class="ob">2</span>0) pole figures of TA32 titanium alloy</span>
<span id="c7s" class="t b" style="left:298.9px;top:366.85px;font-size:20.6px;transform:scaleX(0.9863);">sheet</span>
<span id="c7r" class="t" style="left:345.3px;top:364.93px;font-size:12.5px;transform:scaleX(0.8712);">[7]</span>
<span id="y0" class="t" style="left:66.2px;top:414.53px;font-size:20.5px;transform:scaleX(0.9756);">0.8</span>
<span id="y1" class="t" style="left:66.2px;top:475.63px;font-size:20.5px;transform:scaleX(0.9756);">0.7</span>
<span id="y2" class="t" style="left:66.2px;top:536.73px;font-size:20.5px;transform:scaleX(0.9756);">0.6</span>
<span id="y3" class="t" style="left:66.2px;top:597.83px;font-size:20.5px;transform:scaleX(0.9756);">0.5</span>
<span id="y4" class="t" style="left:66.2px;top:658.93px;font-size:20.5px;transform:scaleX(0.9756);">0.4</span>
<span id="y5" class="t" style="left:66.2px;top:720.03px;font-size:20.5px;transform:scaleX(0.9756);">0.3</span>
<span id="y6" class="t" style="left:66.2px;top:781.13px;font-size:20.5px;transform:scaleX(0.9756);">0.2</span>
<span id="x0" class="t" style="left:94.5px;top:795.93px;font-size:20.5px;">0</span>
<span id="x1" class="t" style="left:161.8px;top:795.93px;font-size:20.5px;">5</span>
<span id="x2" class="t" style="left:223.9px;top:795.93px;font-size:20.5px;">10</span>
<span id="x3" class="t" style="left:291.2px;top:795.93px;font-size:20.5px;">15</span>
<span id="x4" class="t" style="left:358.5px;top:795.93px;font-size:20.5px;">20</span>
<span id="x5" class="t" style="left:425.9px;top:795.93px;font-size:20.5px;">25</span>
<span id="x6" class="t" style="left:493.1px;top:795.93px;font-size:20.5px;">20</span>
<span id="x7" class="t" style="left:560.4px;top:795.93px;font-size:20.5px;">35</span>
<span id="l0a" class="t cjks" style="left:493.4px;top:417.55px;font-size:20px;transform:scaleX(1.0100);">路径</span>
<span id="l0b" class="t" style="left:534.6px;top:417.63px;font-size:20.5px;">1</span>
<span id="l0c" class="t" style="left:549.5px;top:417.63px;font-size:20.5px;">(</span>
<span id="l0d" class="t" style="left:559.7px;top:417.63px;font-size:20.5px;transform:scaleX(1.0724);">RD//<i>X</i></span>
<span id="l0e" class="t" style="left:617.0px;top:417.63px;font-size:20.5px;">)</span>
<span id="l1a" class="t cjks" style="left:493.4px;top:444.95px;font-size:20px;transform:scaleX(1.0100);">路径</span>
<span id="l1b" class="t" style="left:534.6px;top:445.03px;font-size:20.5px;">2</span>
<span id="l1c" class="t" style="left:549.5px;top:445.03px;font-size:20.5px;">(</span>
<span id="l1d" class="t" style="left:559.7px;top:445.03px;font-size:20.5px;transform:scaleX(1.0724);">RD//<i>X</i></span>
<span id="l1e" class="t" style="left:617.0px;top:445.03px;font-size:20.5px;">)</span>
<span id="l2a" class="t cjks" style="left:493.4px;top:472.35px;font-size:20px;transform:scaleX(1.0100);">路径</span>
<span id="l2b" class="t" style="left:534.6px;top:472.43px;font-size:20.5px;">2</span>
<span id="l2c" class="t" style="left:549.5px;top:472.43px;font-size:20.5px;">(</span>
<span id="l2d" class="t" style="left:559.7px;top:472.43px;font-size:20.5px;transform:scaleX(1.0966);">TD//<i>X</i></span>
<span id="l2e" class="t" style="left:617.0px;top:472.43px;font-size:20.5px;">)</span>
<span id="l3a" class="t cjks" style="left:493.4px;top:499.75px;font-size:20px;transform:scaleX(1.0100);">路径</span>
<span id="l3b" class="t" style="left:534.6px;top:499.83px;font-size:20.5px;">3</span>
<span id="l3c" class="t" style="left:549.5px;top:499.83px;font-size:20.5px;">(</span>
<span id="l3d" class="t" style="left:559.7px;top:499.83px;font-size:20.5px;transform:scaleX(1.0724);">RD//<i>X</i></span>
<span id="l3e" class="t" style="left:617.0px;top:499.83px;font-size:20.5px;">)</span>
<span id="l4a" class="t cjks" style="left:493.4px;top:527.15px;font-size:20px;transform:scaleX(1.0100);">路径</span>
<span id="l4b" class="t" style="left:534.6px;top:527.23px;font-size:20.5px;">3</span>
<span id="l4c" class="t" style="left:549.5px;top:527.23px;font-size:20.5px;">(</span>
<span id="l4d" class="t" style="left:559.7px;top:527.23px;font-size:20.5px;transform:scaleX(1.0966);">TD//<i>X</i></span>
<span id="l4e" class="t" style="left:617.0px;top:527.23px;font-size:20.5px;">)</span>
<span id="l5a" class="t cjks" style="left:493.4px;top:554.55px;font-size:20px;transform:scaleX(1.0100);">路径</span>
<span id="l5b" class="t" style="left:534.6px;top:554.63px;font-size:20.5px;">4</span>
<span id="l5c" class="t" style="left:549.5px;top:554.63px;font-size:20.5px;">(</span>
<span id="l5d" class="t" style="left:559.7px;top:554.63px;font-size:20.5px;transform:scaleX(1.0724);">RD//<i>X</i></span>
<span id="l5e" class="t" style="left:617.0px;top:554.63px;font-size:20.5px;">)</span>
<span id="l6a" class="t cjks" style="left:493.4px;top:581.95px;font-size:20px;transform:scaleX(1.0100);">路径</span>
<span id="l6b" class="t" style="left:534.6px;top:582.03px;font-size:20.5px;">4</span>
<span id="l6c" class="t" style="left:549.5px;top:582.03px;font-size:20.5px;">(</span>
<span id="l6d" class="t" style="left:559.7px;top:582.03px;font-size:20.5px;transform:scaleX(1.0966);">TD//<i>X</i></span>
<span id="l6e" class="t" style="left:617.0px;top:582.03px;font-size:20.5px;">)</span>
<span id="xl1" class="t cjks" style="left:275.0px;top:822.55px;font-size:20px;transform:scaleX(1.0312);">胀形高度</span>
<span id="xl2" class="t" style="left:358.6px;top:822.73px;font-size:20.5px;transform:scaleX(1.0108);">/mm</span>
<span id="c8a" class="t cjk" style="left:76.6px;top:854.97px;font-size:19.5px;">图</span>
<span id="c8b" class="t b" style="left:102.4px;top:854.55px;font-size:20px;">8</span>
<span id="c8c" class="t cjk" style="left:135.0px;top:854.97px;font-size:19.5px;transform:scaleX(1.0610);">不同路径下试样顶点壁厚和胀形高度之间的关系</span>
<span id="c8en0" class="t b" style="left:25.1px;top:886.95px;font-size:20.6px;transform:scaleX(0.9876);">Fig.8</span>
<span id="c8en" class="t b" style="left:91.8px;top:886.95px;font-size:20.6px;word-spacing:2.441px;">Relationship between the apex thickness and bulging height</span>
<span id="c8l3" class="t b" style="left:233.4px;top:917.85px;font-size:20.6px;word-spacing:2.147px;">under different paths</span>
<span id="T0" class="t" style="left:81.9px;top:101.65px;font-size:20px;">T</span>
<span id="T1" class="t" style="left:354.9px;top:44.55px;font-size:20px;">T</span>
<span id="T2" class="t" style="left:364.9px;top:92.85px;font-size:20px;">T</span>
<span id="T3" class="t" style="left:365.6px;top:161.55px;font-size:20px;">T</span>
<span id="T4" class="t" style="left:348.8px;top:200.55px;font-size:20px;">T</span>
<span id="T5" class="t" style="left:563.9px;top:61.95px;font-size:20px;">T</span>
<span id="T6" class="t" style="left:558.0px;top:130.35px;font-size:20px;">T</span>
<span id="T7" class="t" style="left:545.9px;top:189.95px;font-size:20px;">T</span>
<span id="yl" class="t" style="left:47.4px;top:666px;font-size:20px;transform:rotate(-90deg) scaleX(1.04);transform-origin:0 0;"><span style="position:absolute;left:0;top:-16.75px;white-space:nowrap;" class="cjks">顶点壁厚<span style="font-family:'Liberation Serif',serif;font-size:20.5px;">/mm</span></span></span>
</div>
</body></html>
